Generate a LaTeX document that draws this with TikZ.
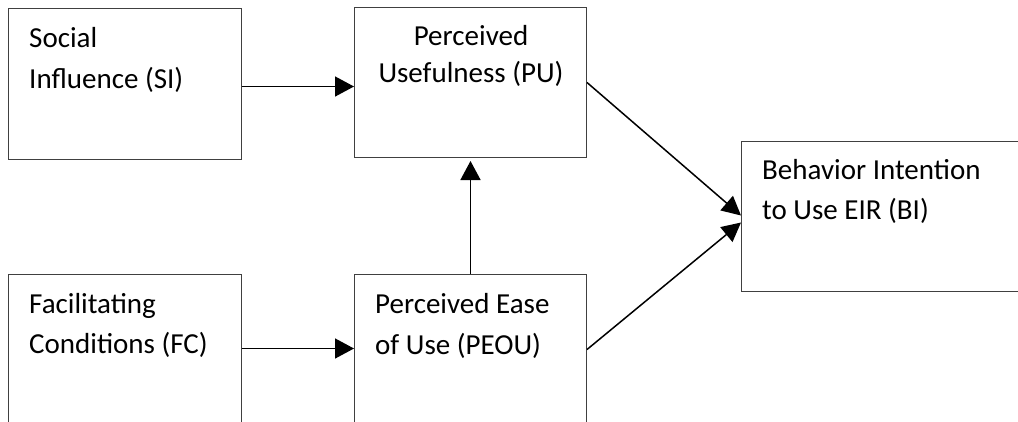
\documentclass[tikz,border=0pt]{standalone}
\usepackage{fontspec}
\setmainfont{Carlito}
\usetikzlibrary{arrows.meta}
\begin{document}
\begin{tikzpicture}[x=1pt,y=-1pt,
  box/.style={draw=black!75,line width=1pt,rectangle,inner sep=0pt,anchor=north west},
  txt/.style={inner sep=0pt,font=\fontsize{29}{41}\selectfont},
  arr/.style={line width=1.5pt,-{Triangle[length=19pt,width=20pt]}},
  darr/.style={line width=1.5pt,-{Triangle[length=19pt,width=19pt]}}]
\clip (0,0) rectangle (1018,421);
\fill[white] (0,0) rectangle (1018,421);
% boxes
\node[box,minimum width=233pt,minimum height=151pt] (SI) at (8,8) {};
\node[box,minimum width=232pt,minimum height=150pt] (PU) at (354,7) {};
\node[box,minimum width=290pt,minimum height=150pt] (BI) at (741,141) {};
\node[box,minimum width=233pt,minimum height=156pt] (FC) at (8,274) {};
\node[box,minimum width=232pt,minimum height=156pt] (PEOU) at (354,274) {};
% texts
\node[txt,anchor=base west] (si1) at (29,47) {Social};
\node[txt,anchor=base west] (si2) at (29,88) {Influence (SI)};
\node[txt,anchor=base] (pu1) at (471,45) {Perceived};
\node[txt,anchor=base] (pu2) at (471,82) {Usefulness (PU)};
\node[txt,anchor=base west] (bi1) at (762,179) {Behavior Intention};
\node[txt,anchor=base west] (bi2) at (762,219) {to Use EIR (BI)};
\node[txt,anchor=base west] (fc1) at (29,313) {Facilitating};
\node[txt,anchor=base west] (fc2) at (29,353) {Conditions (FC)};
\node[txt,anchor=base west] (pe1) at (375,313) {Perceived Ease};
\node[txt,anchor=base west] (pe2) at (375,354) {of Use (PEOU)};
% connectors
\draw[arr] ([yshift=-2.5pt]SI.east) -- ([yshift=-2.5pt]SI.east -| PU.west);
\draw[arr] ([yshift=4pt]FC.east) -- ([yshift=4pt]FC.east -| PEOU.west);
\draw[arr] (PEOU.north) -- ([yshift=-3pt]PU.south);
\draw[darr] (PU.east) -- ([yshift=1pt]BI.west);
\draw[darr] ([yshift=3pt]PEOU.east) -- ([yshift=-6pt]BI.west);
\end{tikzpicture}
\end{document}
